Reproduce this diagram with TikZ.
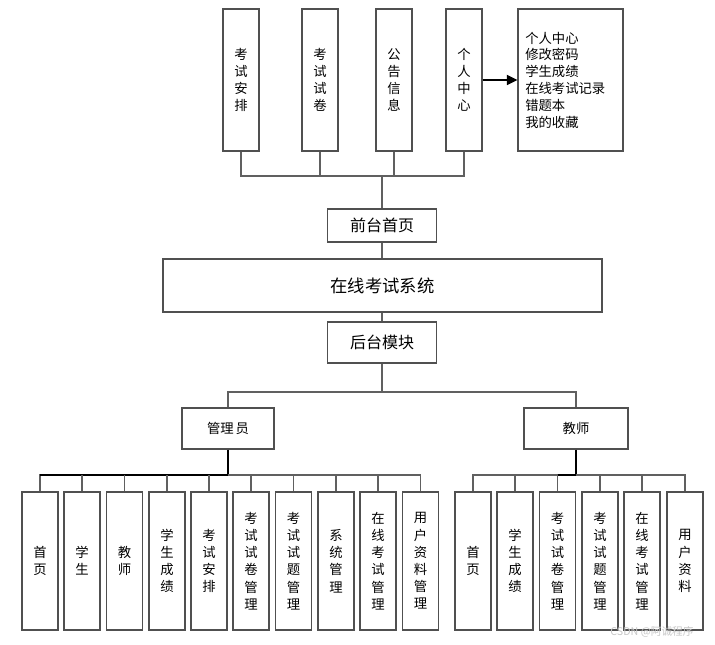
\documentclass[tikz,border=0pt]{standalone}
\usepackage{fontspec}
\setmainfont{Noto Sans CJK SC}
\usetikzlibrary{arrows.meta}
\definecolor{boxgray}{HTML}{505050}
\definecolor{linegray}{HTML}{606060}
\begin{document}
\begin{tikzpicture}[x=0.75pt,y=-0.75pt,
  base/.style={draw=boxgray,line width=0.8pt,inner sep=0pt,fill=white},
  vbox/.style={base,minimum width=27pt,minimum height=103.5pt,align=center,
    font=\fontsize{10}{12.9}\selectfont},
  topbox/.style={vbox,minimum height=106.5pt},
  hbox/.style={base,align=center,font=\fontsize{10}{12}\selectfont},
  conn/.style={draw=linegray,line width=0.8pt},
  stem/.style={draw=black,line width=1.3pt}]
\useasboundingbox (0,0) rectangle (715,645);
% top level
\node[topbox] (t1) at (241,80) {考\\试\\安\\排};
\node[topbox] (t2) at (320,80) {考\\试\\试\\卷};
\node[topbox] (t3) at (394,80) {公\\告\\信\\息};
\node[topbox] (t4) at (464,80) {个\\人\\中\\心};
\node[base,minimum width=78.75pt,minimum height=106.5pt] (pc) at (570.5,80) {};
\node[anchor=west,align=left,inner sep=0pt,font=\fontsize{10}{12.6}\selectfont] (pctext) at (525,80)
  {个人中心\\修改密码\\学生成绩\\在线考试记录\\错题本\\我的收藏};
\draw[black,line width=1.3pt,-{Triangle[length=8pt,width=7.5pt]}] (t4.east) -- (pc.west);
\coordinate (tbus) at (382,176);
\draw[conn] (t1.south) |- (t4.south |- tbus) -- (t4.south);
\draw[conn] (t2.south) -- (t2.south |- tbus);
\draw[conn] (t3.south) -- (t3.south |- tbus);
% middle
\node[hbox,minimum width=81.75pt,minimum height=24.75pt,font=\fontsize{12}{14}\selectfont] (front) at (382,225.5) {前台首页};
\node[hbox,minimum width=329.25pt,minimum height=39.75pt,font=\fontsize{13}{15}\selectfont] (sys) at (382.5,285.5) {在线考试系统};
\node[hbox,minimum width=81.75pt,minimum height=30.75pt,font=\fontsize{12}{14}\selectfont] (back) at (382,342.5) {后台模块};
\draw[conn] (tbus) -- (front.north);
\draw[conn] (front.south) -- (sys.north -| front.south);
\draw[conn] (sys.south -| back.north) -- (back.north);
\coordinate (mbus) at (382,392);
\draw[conn] (back.south) -- (mbus);
\node[hbox,minimum width=69pt,minimum height=30.75pt] (admin) at (228,428.5) {管理\hspace{1.5pt}员};
\node[hbox,minimum width=78pt,minimum height=30.75pt] (teach) at (576,428.5) {教师};
\draw[conn] (admin.north) |- (mbus) -| (teach.north);
% admin children
\coordinate (abus) at (228,475);
\coordinate (tbus2) at (576,475);
\draw[stem] (admin.south) -- (abus);
\draw[stem] (teach.south) -- (tbus2);
\node[vbox] (a1) at (40,561) {首\\页};
\node[vbox] (a2) at (82,561) {学\\生};
\node[vbox] (a3) at (124.5,561) {教\\师};
\node[vbox] (a4) at (167,561) {学\\生\\成\\绩};
\node[vbox] (a5) at (209,561) {考\\试\\安\\排};
\node[vbox] (a6) at (251,561) {考\\试\\试\\卷\\管\\理};
\node[vbox] (a7) at (293.5,561) {考\\试\\试\\题\\管\\理};
\node[vbox] (a8) at (336,561) {系\\统\\管\\理};
\node[vbox] (a9) at (378,561) {在\\线\\考\\试\\管\\理};
\node[vbox] (a10) at (420.5,561) {用\\户\\资\\料\\管\\理};
\draw[conn] (a1.north) |- (abus) -| (a10.north);
\draw[stem] (a1.north |- abus) -- (abus);
\foreach \n in {a2,a3,a4,a5,a6,a7,a8,a9}{\draw[conn] (\n.north) -- (\n.north |- abus);}
% teacher children
\node[vbox] (b1) at (473,561) {首\\页};
\node[vbox] (b2) at (515,561) {学\\生\\成\\绩};
\node[vbox] (b3) at (557.5,561) {考\\试\\试\\卷\\管\\理};
\node[vbox] (b4) at (600,561) {考\\试\\试\\题\\管\\理};
\node[vbox] (b5) at (642,561) {在\\线\\考\\试\\管\\理};
\node[vbox] (b6) at (685,561) {用\\户\\资\\料};
\draw[conn] (b1.north) |- (tbus2) -| (b6.north);
\foreach \n in {b2,b3,b4,b5}{\draw[conn] (\n.north) -- (\n.north |- tbus2);}
\draw[stem] (b3.north |- tbus2) -- (tbus2);
% watermark
\node[text=gray!45,font=\fontsize{8}{9}\selectfont,inner sep=0pt] (wm) at (652,632) {CSDN @阿诚程序};
\end{tikzpicture}
\end{document}
